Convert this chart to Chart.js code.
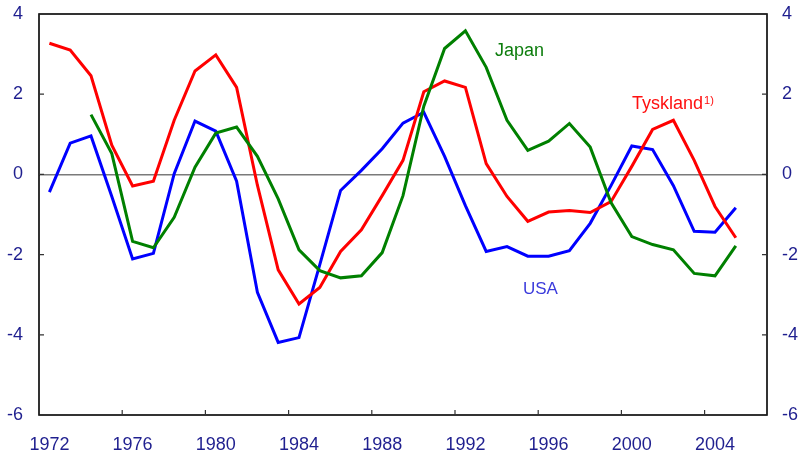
<!DOCTYPE html>
<html>
<head>
<meta charset="utf-8">
<script src="https://cdn.jsdelivr.net/npm/chart.js@4/dist/chart.umd.min.js"></script>
<style>
  html, body { margin: 0; padding: 0; background: #fff; }
  #wrap { width: 799px; height: 456px; }
</style>
</head>
<body>
<div id="wrap"><canvas id="graf"></canvas></div>
<script>
// år 1972-2006 (siste kategori er tom)
const aar = ['1972','1973','1974','1975','1976','1977','1978','1979','1980','1981',
  '1982','1983','1984','1985','1986','1987','1988','1989','1990','1991',
  '1992','1993','1994','1995','1996','1997','1998','1999','2000','2001',
  '2002','2003','2004','2005','2006'];

const usa = [-0.44, 0.78, 0.96, -0.55, -2.11, -1.97, 0.02, 1.33, 1.08, -0.17,
  -2.94, -4.19, -4.07, -2.25, -0.40, 0.10, 0.64, 1.28, 1.55, 0.45,
  -0.78, -1.92, -1.80, -2.04, -2.04, -1.90, -1.22, -0.28, 0.71, 0.62,
  -0.28, -1.42, -1.44, -0.83, null];

const japan = [null, null, 1.49, 0.52, -1.67, -1.83, -1.07, 0.18, 1.03, 1.18,
  0.45, -0.61, -1.88, -2.40, -2.58, -2.53, -1.95, -0.53, 1.70, 3.14,
  3.58, 2.67, 1.35, 0.60, 0.83, 1.27, 0.68, -0.70, -1.55, -1.75,
  -1.88, -2.47, -2.53, -1.78, null];

const tyskland = [3.27, 3.10, 2.46, 0.73, -0.29, -0.17, 1.35, 2.58, 2.98, 2.17,
  -0.27, -2.38, -3.23, -2.82, -1.92, -1.38, -0.53, 0.35, 2.06, 2.33,
  2.17, 0.27, -0.55, -1.17, -0.94, -0.90, -0.95, -0.68, 0.20, 1.12,
  1.35, 0.35, -0.80, -1.58, null];

const yTicks = [-6, -4, -2, 0, 2, 4];

const tekstFarge = '#1f1f8f';
const font = { family: 'Liberation Sans, Arial, sans-serif', size: 18 };

// ramme, innovervendte tick-streker og etiketter
const rammePlugin = {
  id: 'ramme',
  afterDraw(chart) {
    const { ctx, chartArea: a, scales } = chart;
    const x = scales.x, y = scales.y;
    const halv = (x.getPixelForValue(1) - x.getPixelForValue(0)) / 2;
    ctx.save();
    ctx.strokeStyle = '#000';
    ctx.lineWidth = 1.6;
    ctx.strokeRect(a.left, a.top, a.right - a.left, a.bottom - a.top);
    ctx.beginPath();
    aar.forEach((l, i) => {
      if ((+l - 1972) % 4 === 0 && i > 0) {
        const px = x.getPixelForValue(i) - halv;
        ctx.moveTo(px, a.bottom);
        ctx.lineTo(px, a.bottom - 5);
      }
    });
    yTicks.forEach(v => {
      const py = y.getPixelForValue(v);
      ctx.moveTo(a.left, py); ctx.lineTo(a.left + 5, py);
      ctx.moveTo(a.right, py); ctx.lineTo(a.right - 5, py);
    });
    ctx.lineWidth = 1.2;
    ctx.strokeStyle = '#333';
    ctx.stroke();

    ctx.textBaseline = 'alphabetic';
    ctx.font = '18px "Liberation Sans", Arial, sans-serif';
    ctx.fillStyle = '#0d7d0d';
    ctx.fillText('Japan', 495, 56);
    ctx.fillStyle = '#ff1010';
    ctx.fillText('Tyskland', 632, 109);
    const w = ctx.measureText('Tyskland').width;
    ctx.font = '17px "Liberation Sans", Arial, sans-serif';
    ctx.fillStyle = '#3b3bdc';
    ctx.fillText('USA', 523, 294);
    ctx.fillStyle = '#ff1010';
    ctx.font = '11px "Liberation Sans", Arial, sans-serif';
    ctx.fillText('1)', 632 + w + 1, 104);
    ctx.restore();
  }
};

function serie(navn, data, farge) {
  return {
    label: navn,
    data: data,
    borderColor: farge,
    backgroundColor: farge,
    borderWidth: 3,
    pointRadius: 0,
    tension: 0,
    spanGaps: false
  };
}

new Chart(document.getElementById('graf'), {
  type: 'line',
  data: {
    labels: aar,
    datasets: [
      serie('Japan', japan, '#008000'),
      serie('Tyskland', tyskland, '#ff0000'),
      serie('USA', usa, '#0000ff')
    ]
  },
  options: {
    responsive: true,
    maintainAspectRatio: false,
    animation: false,
    layout: { padding: { top: 14, left: 0, right: 0, bottom: 0 } },
    plugins: { legend: { display: false }, tooltip: { enabled: false } },
    scales: {
      x: {
        offset: true,
        grid: { display: false, offset: true },
        border: { display: false },
        ticks: {
          autoSkip: false, maxRotation: 0, color: tekstFarge, font: font, padding: 11,
          callback: (v, i) => ((+aar[i] - 1972) % 4 === 0 && +aar[i] <= 2004) ? aar[i] : ''
        },
        afterFit(s) { s.height = 41; s.paddingLeft = 0; s.paddingRight = 0; }
      },
      y: {
        position: 'left',
        min: -6, max: 4,
        ticks: { stepSize: 2, color: tekstFarge, font: font, padding: 16 },
        grid: {
          drawTicks: false,
          color: c => c.tick.value === 0 ? '#7a7a7a' : 'rgba(0,0,0,0)',
          lineWidth: 1.5
        },
        border: { display: false },
        afterFit(s) { s.width = 39; s.paddingTop = 0; s.paddingBottom = 0; }
      },
      y2: {
        position: 'right',
        min: -6, max: 4,
        ticks: { stepSize: 2, color: tekstFarge, font: font, padding: 15 },
        grid: { display: false, drawTicks: false },
        border: { display: false },
        afterFit(s) { s.width = 32; s.paddingTop = 0; s.paddingBottom = 0; }
      }
    }
  },
  plugins: [rammePlugin]
});
</script>
</body>
</html>
